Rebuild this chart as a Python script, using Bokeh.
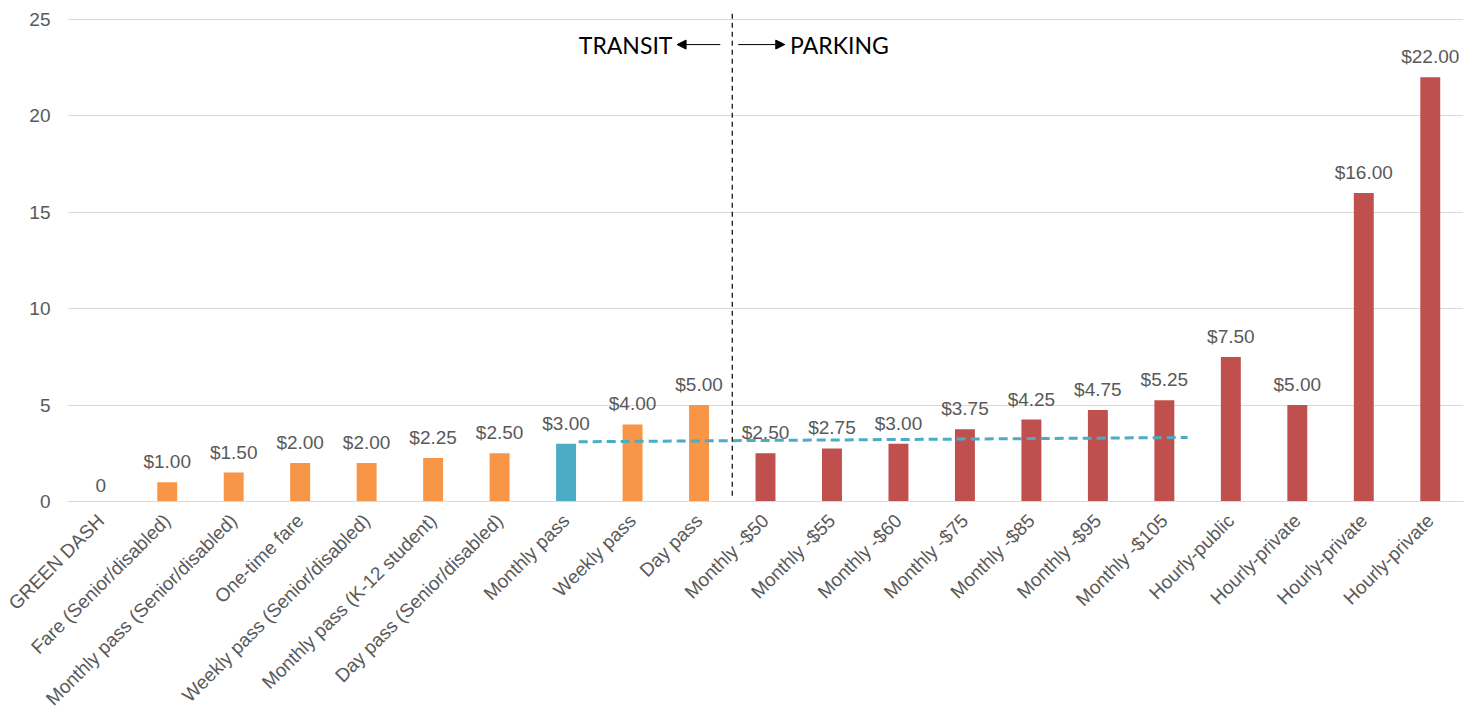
import numpy as np
from bokeh.plotting import figure
from bokeh.models import ColumnDataSource, Range1d, FixedTicker, Arrow, NormalHead, Label
from bokeh.embed import file_html
from bokeh.resources import INLINE
from bokeh.core.properties import value

# ---------------- data ----------------
categories = [
    "GREEN DASH", "Fare (Senior/disabled)", "Monthly pass (Senior/disabled)",
    "One-time fare", "Weekly pass (Senior/disabled)", "Monthly pass (K-12 student)",
    "Day pass (Senior/disabled)", "Monthly pass", "Weekly pass", "Day pass",
    "Monthly -$50", "Monthly -$55", "Monthly -$60", "Monthly -$75", "Monthly -$85",
    "Monthly -$95", "Monthly -$105", "Hourly-public", "Hourly-private",
    "Hourly-private", "Hourly-private",
]
costs = [0, 1.00, 1.50, 2.00, 2.00, 2.25, 2.50, 3.00, 4.00, 5.00,
         2.50, 2.75, 3.00, 3.75, 4.25, 4.75, 5.25, 7.50, 5.00, 16.00, 22.00]
groups = (["transit"] * 7 + ["highlight"] + ["transit"] * 2 + ["parking"] * 11)
value_labels = ["0"] + ["$%.2f" % c for c in costs[1:]]

# dashed reference line (category index, value)
trend_idx = [7.19, 16.35]
trend_val = [3.10, 3.32]

# boundary between transit and parking (between "Day pass" and "Monthly -$50")
divider_idx = 9.5

y_ticks = [0, 5, 10, 15, 20, 25]

# ---------------- styles ----------------
group_colors = {"transit": "#F79646", "highlight": "#4BACC6", "parking": "#C0504D"}
TEXT_GREY = "#595959"
GRID_GREY = "#D9D9D9"
FONT = "Liberation Sans"

n = len(categories)
xs = [i + 0.5 for i in range(n)]
src = ColumnDataSource(dict(
    x=xs, top=costs, color=[group_colors[g] for g in groups], label=value_labels,
))

p = figure(frame_width=1396, frame_height=492, output_backend="svg",
           toolbar_location=None,
           x_range=Range1d(0, n), y_range=Range1d(0, 25.52),
           min_border_left=67, min_border_right=5, min_border_top=9,
           min_border_bottom=0)
p.outline_line_color = None
p.background_fill_color = "white"

p.vbar(x="x", top="top", width=0.3, bottom=0, fill_color="color",
       line_color=None, source=src)

p.text(x="x", y="top", text="label", source=src, y_offset=-10,
       text_align="center", text_baseline="bottom", text_color=TEXT_GREY,
       text_font=value(FONT), text_font_size="19px")

# dashed line
p.line(x=[t + 0.5 for t in trend_idx], y=trend_val, line_color="#4BACC6",
       line_width=3, line_dash="9 5")

# vertical divider
p.segment(x0=[divider_idx + 0.5], y0=[0.3], x1=[divider_idx + 0.5], y1=[25.5],
          line_color="black", line_width=1.2, line_dash="5 4")

# section annotations
ann_y = 23.7
p.add_layout(Arrow(end=NormalHead(size=9, fill_color="black", line_color="black"),
                   x_start=divider_idx + 0.5 - 0.18, y_start=ann_y,
                   x_end=divider_idx + 0.5 - 0.83, y_end=ann_y,
                   line_color="black", line_width=1))
p.add_layout(Arrow(end=NormalHead(size=9, fill_color="black", line_color="black"),
                   x_start=divider_idx + 0.5 + 0.09, y_start=ann_y,
                   x_end=divider_idx + 0.5 + 0.79, y_end=ann_y,
                   line_color="black", line_width=1))
p.add_layout(Label(x=divider_idx + 0.5 - 0.9, y=ann_y, text="TRANSIT",
                   text_align="right", text_baseline="middle", text_color="black",
                   text_font="Lato", text_font_size="23px"))
p.add_layout(Label(x=divider_idx + 0.5 + 0.87, y=ann_y, text="PARKING",
                   text_align="left", text_baseline="middle", text_color="black",
                   text_font="Lato", text_font_size="23px"))

# axes
p.xaxis.ticker = FixedTicker(ticks=xs)
p.xaxis.major_label_overrides = {x: c for x, c in zip(xs, categories)}
p.xaxis.major_label_orientation = np.pi / 4
p.xaxis.major_label_text_font = FONT
p.xaxis.major_label_text_font_size = "19px"
p.xaxis.major_label_text_color = TEXT_GREY
p.xaxis.major_tick_line_color = None
p.xaxis.major_tick_out = 0
p.xaxis.major_tick_in = 0
p.xaxis.minor_tick_line_color = None
p.xaxis.axis_line_color = GRID_GREY
p.xaxis.major_label_standoff = 16

p.yaxis.ticker = FixedTicker(ticks=y_ticks)
p.yaxis.major_label_text_font = FONT
p.yaxis.major_label_text_font_size = "19px"
p.yaxis.major_label_text_color = TEXT_GREY
p.yaxis.major_tick_line_color = None
p.yaxis.major_tick_out = 0
p.yaxis.major_tick_in = 0
p.yaxis.minor_tick_line_color = None
p.yaxis.axis_line_color = None
p.yaxis.major_label_standoff = 17

p.xgrid.grid_line_color = None
p.ygrid.grid_line_color = GRID_GREY
p.ygrid.grid_line_width = 1

open("out.html", "w").write(file_html(p, INLINE))
